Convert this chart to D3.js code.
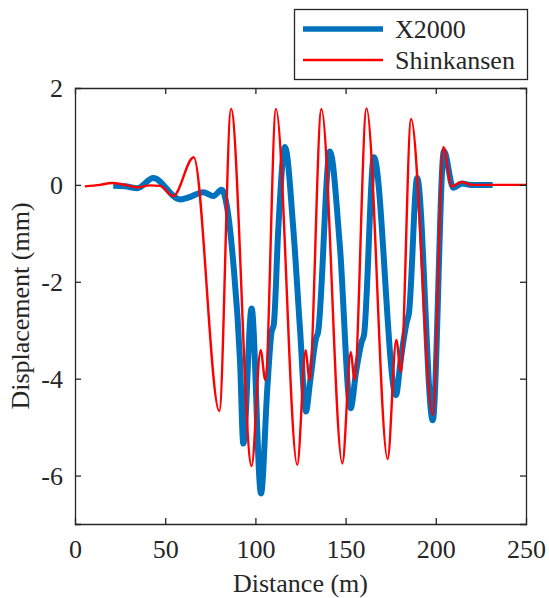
<!DOCTYPE html>
<html><head><meta charset="utf-8">
<script src="https://cdn.jsdelivr.net/npm/d3@7"></script>
<style>html,body{margin:0;padding:0;background:#fff;}svg{display:block;}
text{font-family:"Liberation Serif","Tinos","Times New Roman",Times,serif;}</style>
</head><body>
<svg id="c" width="549" height="598"></svg>
<script>
// Distance (m) and displacement (mm)
const x2000Dist = [21.2, 27.7, 34.5, 43.4, 58.2, 63.7, 71.1, 76.7, 81.3, 84.1, 87.7, 91.5, 93.3, 97.9, 103.1, 106.6, 108.9, 110.2, 112.7, 116.4, 121.0, 124.7, 128.0, 130.3, 133.6, 134.7, 141.3, 146.8, 152.8, 155.8, 158.9, 160.2, 165.7, 177.9, 180.6, 183.9, 185.1, 189.7, 198.3, 204.5, 209.7, 214.5, 219.0, 231.5];
const x2000Disp = [-0.02, -0.03, -0.07, 0.14, -0.30, -0.25, -0.15, -0.23, -0.10, -0.42, -1.59, -3.65, -5.34, -2.55, -6.37, -4.20, -3.05, -2.88, -0.90, 0.78, -0.90, -2.96, -4.68, -4.07, -3.17, -3.05, 0.69, -1.25, -4.61, -3.86, -3.24, -3.10, 0.57, -4.34, -3.60, -2.83, -2.65, 0.14, -4.86, 0.70, -0.06, 0.03, 0.00, 0.00];

const shinDist = [5.5, 13.9, 20.3, 27.7, 34.2, 41.6, 47.1, 54.5, 65.8, 80.0, 86.5, 97.9, 102.9, 105.5, 111.4, 123.2, 127.9, 129.9, 136.6, 148.2, 152.9, 154.9, 161.6, 173.3, 178.1, 180.6, 186.3, 198.3, 204.2, 208.8, 214.3, 220.0, 250.0];
const shinDisp = [-0.03, 0.00, 0.04, 0.00, -0.05, -0.01, -0.02, -0.23, 0.57, -4.67, 1.57, -5.80, -3.41, -4.03, 1.57, -5.78, -3.41, -4.03, 1.57, -5.75, -3.45, -4.03, 1.58, -5.66, -3.20, -3.86, 1.36, -4.75, 0.78, -0.03, 0.06, 0.00, 0.00];

const xTicks = [0, 50, 100, 150, 200, 250];
const yTicks = [2, 0, -2, -4, -6];
const seriesNames = ["X2000", "Shinkansen"];

const svg = d3.select("#c");
const L = 75, R = 526, T = 88, B = 524;
const x = d3.scaleLinear().domain([0, 250]).range([L, R]);
const y = d3.scaleLinear().domain([-7, 2]).range([B, T]);
const ink = "#262626";
const fs = "26px";

// lines
const line = d3.line().x(d => x(d[0])).y(d => y(d[1])).curve(d3.curveMonotoneX);
svg.append("clipPath").attr("id", "clp").append("rect")
  .attr("x", L).attr("y", T).attr("width", R - L).attr("height", B - T);
const g = svg.append("g").attr("clip-path", "url(#clp)");
g.append("path").datum(d3.zip(x2000Dist, x2000Disp)).attr("d", line)
  .attr("fill", "none").attr("stroke", "#0072BD").attr("stroke-width", 6)
  .attr("stroke-linejoin", "round").attr("stroke-linecap", "butt");
g.append("path").datum(d3.zip(shinDist, shinDisp)).attr("d", line)
  .attr("fill", "none").attr("stroke", "#FF0000").attr("stroke-width", 2.4)
  .attr("stroke-linejoin", "round");

// axes (inward ticks, box)
const tl = 6;
const fmt = d => String(d);
const axB = svg.append("g").attr("transform", `translate(0,${B})`)
  .call(d3.axisBottom(x).tickValues(xTicks).tickSize(-tl).tickPadding(16).tickFormat(fmt));
const axT = svg.append("g").attr("transform", `translate(0,${T})`)
  .call(d3.axisTop(x).tickValues(xTicks).tickSize(-tl).tickFormat(""));
const axL = svg.append("g").attr("transform", `translate(${L},0)`)
  .call(d3.axisLeft(y).tickValues(yTicks).tickSize(-tl).tickPadding(12).tickFormat(fmt));
const axR = svg.append("g").attr("transform", `translate(${R},0)`)
  .call(d3.axisRight(y).tickValues(yTicks).tickSize(-tl).tickFormat(""));
[axB, axT, axL, axR].forEach(a => {
  a.attr("font-family", null).attr("font-size", null);
  a.select(".domain").attr("stroke", ink).attr("stroke-width", 1.3);
  a.selectAll(".tick line").attr("stroke", ink).attr("stroke-width", 1.3);
  a.selectAll("text").attr("fill", ink).style("font-family", '"Liberation Serif"').style("font-size", fs);
});
axB.selectAll("text").attr("dy", "0.71em");
axL.selectAll("text").attr("dy", "0.34em");
axB.selectAll(".tick line").filter(d => d === 0 || d === 250).remove();
axT.selectAll(".tick line").filter(d => d === 0 || d === 250).remove();
axL.selectAll(".tick line").filter(d => d === 2).remove();
axR.selectAll(".tick line").filter(d => d === 2).remove();

svg.append("text").attr("x", (L + R) / 2).attr("y", 592).attr("text-anchor", "middle")
  .attr("fill", ink).style("font-family", '"Liberation Serif"').style("font-size", fs).text("Distance (m)");
svg.append("text").attr("transform", `translate(29,${(T + B) / 2}) rotate(-90)`).attr("text-anchor", "middle")
  .attr("fill", ink).style("font-family", '"Liberation Serif"').style("font-size", fs).text("Displacement (mm)");

// legend
const lg = svg.append("g");
lg.append("rect").attr("x", 294.5).attr("y", 9.5).attr("width", 233).attr("height", 70)
  .attr("fill", "#fff").attr("stroke", ink).attr("stroke-width", 1.3);
const legColors = ["#0072BD", "#FF0000"], legW = [5.5, 2.4], legY = [29, 60];
seriesNames.forEach((n, i) => {
  lg.append("line").attr("x1", 303).attr("x2", 383).attr("y1", legY[i]).attr("y2", legY[i])
    .attr("stroke", legColors[i]).attr("stroke-width", legW[i]);
  lg.append("text").attr("x", 395).attr("y", legY[i] + 8.5).attr("fill", ink)
    .style("font-family", '"Liberation Serif"').style("font-size", fs).text(n);
});
</script>
</body></html>
